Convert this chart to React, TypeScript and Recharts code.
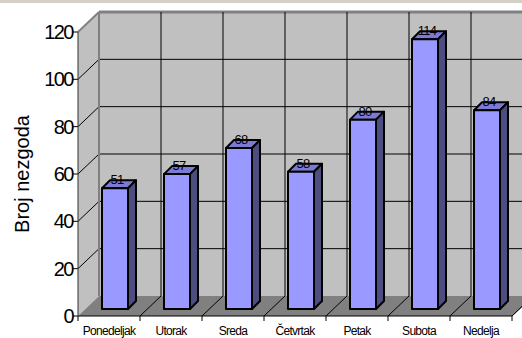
import { BarChart, Bar, XAxis, YAxis, CartesianGrid, LabelList } from 'recharts'

// ─── Data ─────────────────────────────────────────────────────────────────────

const days = ['Ponedeljak', 'Utorak', 'Sreda', 'Četvrtak', 'Petak', 'Subota', 'Nedelja']
const accidents = [51, 57, 68, 58, 80, 114, 84]
const yTicks = [0, 20, 40, 60, 80, 100, 120]
const Y_MAX = 120

const data = days.map((day, i) => ({ day, count: accidents[i] }))

// ─── Layout ───────────────────────────────────────────────────────────────────

const W = 522
const H = 338
const PLOT_LEFT = 78
const PLOT_TOP = 32
const PLOT_W = 434
const PLOT_H = 284

// the box: back wall sits this far behind the front plane
const DX = 21
const DY = -20
// bars stand part way into the box
const BAR_DX = 6
const BAR_DY = -7
const BAR_DEPTH = 8

const FONT = 'Arial, "Liberation Sans", sans-serif'

// ─── Pieces ───────────────────────────────────────────────────────────────────

// left wall and floor, drawn with the bottom grid row so they stay under the lines
function WallsAndFloor() {
  const x = PLOT_LEFT
  const y = PLOT_TOP
  const bottom = y + PLOT_H
  const right = x + PLOT_W
  return (
    <g>
      <polygon
        points={`${x},${bottom} ${x},${y} ${x + DX},${y + DY} ${x + DX},${bottom + DY}`}
        fill="#c0c0c0"
      />
      <polygon
        points={`${x},${bottom} ${right},${bottom} ${right + DX},${bottom + DY} ${x + DX},${bottom + DY}`}
        fill="#808080"
      />
      <line x1={right} y1={bottom} x2={right + DX} y2={bottom + DY} stroke="#404040" />
    </g>
  )
}

// horizontal grid line on the back wall, plus its diagonal on the left wall
function HLine(p: any) {
  const { x1, y1, x2, y2 } = p
  const backBottom = PLOT_TOP + PLOT_H + DY
  const backTop = PLOT_TOP + DY
  const fx = x1 - DX
  const fy = y1 - DY
  if (Math.abs(y1 - backBottom) < 1) {
    return (
      <g>
        <WallsAndFloor />
        <line x1={fx - 5} y1={fy} x2={fx} y2={fy} stroke="#000" />
      </g>
    )
  }
  const top = Math.abs(y1 - backTop) < 1
  const stroke = top ? '#808080' : '#000'
  return (
    <g>
      <line x1={x1} y1={y1} x2={x2 + DX} y2={y2} stroke={stroke} strokeWidth={top ? 3 : 1} />
      <line x1={fx} y1={fy} x2={x1} y2={y1} stroke={stroke} strokeWidth={top ? 2 : 1} />
      <line x1={fx - 5} y1={fy} x2={fx} y2={fy} stroke="#000" />
    </g>
  )
}

// vertical grid line on the back wall, plus its diagonal across the floor
function VLine(p: any) {
  const { x1, y1, x2, y2 } = p
  const fx = x1 - DX
  const fy = y2 - DY
  const first = Math.abs(x1 - (PLOT_LEFT + DX)) < 1
  return (
    <g>
      <line
        x1={x1}
        y1={y1}
        x2={x2}
        y2={y2}
        stroke={first ? '#808080' : '#000'}
        strokeWidth={first ? 2 : 1}
      />
      {!first && <line x1={fx} y1={fy} x2={x2} y2={y2} stroke="#000" />}
      <line x1={fx} y1={fy} x2={fx} y2={fy + 5} stroke="#000" />
    </g>
  )
}

function BoxBar(props: any) {
  const { x, y, width, height } = props
  if (height == null || width == null) return null
  const fx = x + BAR_DX
  const fy = y + BAR_DY
  const d = BAR_DEPTH
  return (
    <g stroke="#000" strokeWidth={2} strokeLinejoin="round">
      <polygon
        points={`${fx},${fy} ${fx + d},${fy - d} ${fx + width + d},${fy - d} ${fx + width},${fy}`}
        fill="#7b7bd6"
      />
      <polygon
        points={`${fx + width},${fy} ${fx + width + d},${fy - d} ${fx + width + d},${fy + height - d} ${fx + width},${fy + height}`}
        fill="#4d4d80"
      />
      <rect x={fx} y={fy} width={width} height={height} fill="#9999ff" />
    </g>
  )
}

function ValueLabel(props: any) {
  const { x, y, width, value } = props
  return (
    <text
      x={x + width / 2 + BAR_DX + 2}
      y={y + BAR_DY - 4}
      textAnchor="middle"
      fontSize={13}
      letterSpacing={-0.8}
      fontFamily={FONT}
      fill="#000"
    >
      {value}
    </text>
  )
}

function DayTick(props: any) {
  const { x, y, payload } = props
  return (
    <text
      x={x}
      y={y + 11}
      textAnchor="middle"
      fontSize={12}
      letterSpacing={-0.7}
      fontFamily={FONT}
      fill="#000"
    >
      {payload.value}
    </text>
  )
}

function CountTick(props: any) {
  const { y, payload } = props
  return (
    <text
      x={PLOT_LEFT - 5}
      y={y}
      dy={7}
      textAnchor="end"
      fontSize={20}
      letterSpacing={-1.5}
      fontFamily={FONT}
      fill="#000"
    >
      {payload.value}
    </text>
  )
}

function AxisTitle() {
  return (
    <text
      x={29}
      y={174}
      transform="rotate(-90 29 174)"
      textAnchor="middle"
      fontSize={20}
      fontFamily={FONT}
      fill="#000"
    >
      Broj nezgoda
    </text>
  )
}

// grid rows follow the value axis, pushed back onto the rear wall
function rowCoords({ yAxis, offset }: any) {
  const toY = (t: number) =>
    typeof yAxis?.scale === 'function'
      ? yAxis.scale(t)
      : offset.top + offset.height * (1 - t / Y_MAX)
  return yTicks.map((t) => toY(t) + DY)
}

// grid columns sit on the category boundaries, pushed back the same way
function colCoords({ offset }: any) {
  const step = offset.width / days.length
  return [...days.map((_, i) => offset.left + i * step), offset.left + offset.width].map((v) => v + DX)
}

// ─── Component ────────────────────────────────────────────────────────────────

export default function App() {
  return (
    <div style={{ position: 'absolute', left: 0, top: 0, width: W, height: H, background: '#fff' }}>
      <div style={{ position: 'absolute', left: 0, top: 0, width: W, height: 3, background: '#d4d0c8' }} />
      <BarChart
        width={W}
        height={H}
        data={data}
        margin={{ top: PLOT_TOP, right: W - PLOT_LEFT - PLOT_W, left: 0, bottom: 0 }}
        barSize={26}
      >
        <CartesianGrid
          x={PLOT_LEFT + DX}
          y={PLOT_TOP + DY}
          width={PLOT_W}
          height={PLOT_H}
          fill="#c0c0c0"
          fillOpacity={1}
          horizontalCoordinatesGenerator={rowCoords}
          verticalCoordinatesGenerator={colCoords}
          horizontal={(p: any) => <HLine key={`h${p.index}`} {...p} />}
          vertical={(p: any) => <VLine key={`v${p.index}`} {...p} />}
        />
        <XAxis
          dataKey="day"
          height={H - PLOT_TOP - PLOT_H}
          interval={0}
          tickLine={false}
          axisLine={{ stroke: '#000' }}
          tick={<DayTick />}
        />
        <YAxis
          width={PLOT_LEFT}
          domain={[0, Y_MAX]}
          ticks={yTicks}
          tickLine={false}
          axisLine={{ stroke: '#333' }}
          tick={<CountTick />}
          label={{ content: () => <AxisTitle /> }}
        />
        <Bar dataKey="count" shape={<BoxBar />} isAnimationActive={false}>
          <LabelList dataKey="count" content={<ValueLabel />} />
        </Bar>
      </BarChart>
    </div>
  )
}
